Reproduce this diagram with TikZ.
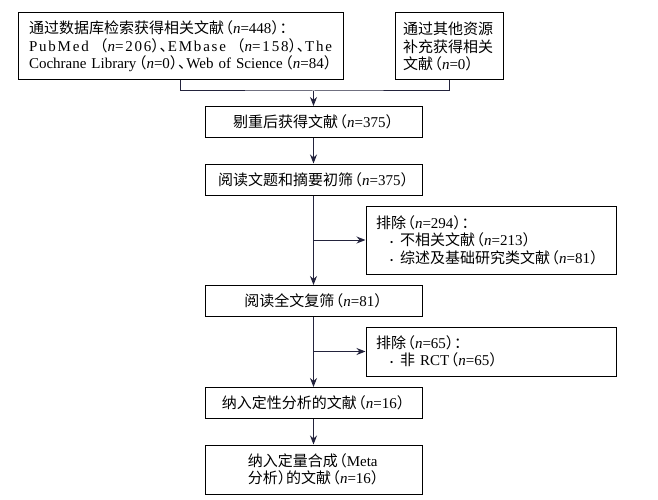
\documentclass[tikz,border=0pt]{standalone}
\usepackage{fontspec}
\setmainfont{Liberation Serif}
\newfontfamily\cjk{Noto Sans CJK SC}
\newfontfamily\spaced[LetterSpace=12]{Liberation Serif}
\usepackage{tikz}
\usetikzlibrary{arrows.meta}
\definecolor{flowline}{RGB}{35,35,60}
\newcommand\zh[1]{{\cjk #1}}
\newcommand\lpar{\kern-0.4em\zh{（}}
\newcommand\rpar{\zh{）}\kern-0.45em}
\newcommand\dun{\zh{、}\kern-0.45em}
\newcommand\nn[1]{\lpar\textit{n}=#1\rpar}
\newcommand\bul{\hspace*{14pt}{\fontsize{9}{9}\selectfont•}\hspace{7pt}}
\newcommand\fullline[1]{\leavevmode\hbox to\linewidth{#1}}

\begin{document}
\begin{tikzpicture}[x=1pt,y=-1pt,
  box/.style={draw,line width=1pt,inner sep=0pt,font=\fontsize{15}{17.5}\selectfont},
  mainbox/.style={box,minimum width=217pt,minimum height=31pt,align=center}]
\useasboundingbox (0,0) rectangle (658,500);

\begin{scope}[>={Stealth[length=9pt,width=7pt]}]
\node[box,minimum width=325pt,minimum height=67pt,text width=303pt,align=left] (search) at (180.5,46.5) {\zh{通过数据库检索获得相关文献}\nn{448}\zh{：}\\\fullline{\spaced PubMed\hfill\lpar{\itshape n}=206\rpar\dun EMbase\hfill\lpar{\itshape n}=158\rpar\dun The}\\\fullline{Cochrane Library\hfill\nn{0}\dun Web of Science\hfill\nn{84}}};
\node[box,minimum width=108pt,minimum height=67pt,text width=92pt,align=left] (other) at (449,46.5) {\zh{通过其他资源}\\\zh{补充获得相关}\\\zh{文献}\nn{0}};
\node[mainbox] (dedup) at (313.5,122) {\zh{剔重后获得文献}\nn{375}};
\node[mainbox] (title) at (313.5,179.5) {\zh{阅读文题和摘要初筛}\nn{375}};
\node[box,minimum width=250pt,minimum height=68pt,text width=230pt,align=left] (excl1) at (491,240) {\zh{排除}\nn{294}\zh{：}\\\bul\zh{不相关文献}\nn{213}\\\bul\zh{综述及基础研究类文献}\nn{81}};
\node[mainbox] (full) at (313.5,301) {\zh{阅读全文复筛}\nn{81}};
\node[box,minimum width=250pt,minimum height=49pt,text width=230pt,align=left] (excl2) at (491,351.5) {\zh{排除}\nn{65}\zh{：}\\\bul\zh{非} RCT\nn{65}};
\node[mainbox] (qual) at (313.5,403) {\zh{纳入定性分析的文献}\nn{16}};
\node[mainbox,minimum height=49pt,align=left] (quant) at (313.5,469.5) {\zh{纳入定量合成}\lpar Meta\\\zh{分析}\rpar\zh{的文献}\nn{16}};

\coordinate (merge) at (313.5,91);
\draw[flowline,line width=1pt] (search.south) |- (merge) -| (other.south);
\draw[flowline,line width=1pt,->] (merge) -- (dedup.north);
\draw[flowline,line width=1pt,->] (dedup) -- (title);
\draw[flowline,line width=1pt,->] (title) -- (full);
\draw[flowline,line width=1pt,->] (full) -- (qual);
\draw[flowline,line width=1pt,->] (qual) -- (quant);
\draw[flowline,line width=1pt,->] (title.south |- excl1.west) -- (excl1.west);
\draw[flowline,line width=1pt,->] (full.south |- excl2.west) -- (excl2.west);
\end{scope}
\end{tikzpicture}
\end{document}
